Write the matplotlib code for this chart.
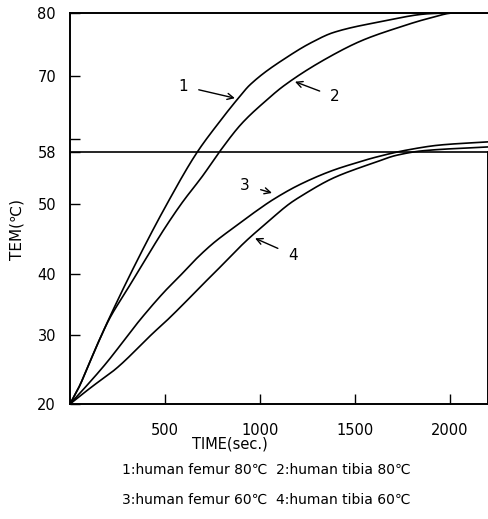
import numpy as np
import matplotlib
matplotlib.use("Agg")
import matplotlib.pyplot as plt

# ---- data ----
t1 = [0, 50, 100, 150, 210, 355, 500, 670, 780, 886, 947, 1158, 1270, 1386, 1632, 1895, 2000, 2200]
T1 = [20, 22.6, 25.8, 29.0, 33.0, 42.0, 49.5, 58.0, 62.5, 66.5, 68.6, 73.3, 75.3, 76.9, 78.6, 79.9, 80.0, 80.0]

t2 = [0, 50, 100, 150, 210, 300, 395, 500, 590, 700, 786, 904, 1035, 1123, 1351, 1542, 1719, 1895, 2020, 2200]
T2 = [20, 22.6, 25.8, 29.0, 32.8, 37.4, 42.0, 46.6, 50.2, 54.4, 58.0, 62.5, 66.2, 68.4, 72.8, 75.7, 77.6, 79.2, 80.0, 80.0]

t3 = [0, 50, 184, 377, 500, 579, 658, 754, 870, 960, 1070, 1210, 1386, 1526, 1596, 1772, 1947, 2200]
T3 = [20, 21.5, 25.7, 32.8, 37.2, 39.7, 42.0, 44.4, 46.8, 48.6, 50.7, 53.0, 55.2, 56.5, 57.1, 58.3, 59.1, 59.6]

t4 = [0, 50, 120, 237, 447, 500, 579, 702, 754, 930, 1035, 1158, 1210, 1386, 1526, 1596, 1719, 1859, 2200]
T4 = [20, 21.1, 22.6, 25.0, 30.6, 32.1, 34.5, 38.4, 40.0, 44.8, 47.3, 50.1, 51.1, 54.0, 55.6, 56.3, 57.5, 58.2, 58.8]

series_labels = ["1", "2", "3", "4"]
label_pos = [(595, 68.4), (1395, 66.7), (921, 52.9), (1174, 42.7)]
arrow_tip = [(868, 66.5), (1184, 69.1), (1063, 51.7), (974, 45.1)]

y_ticks = [20, 30, 40, 50, 58, 70, 80]
y_minor = [60]
x_ticks = [500, 1000, 1500, 2000]
ref_level = 58

caption1 = "1:human femur 80\u2103  2:human tibia 80\u2103"
caption2 = "3:human femur 60\u2103  4:human tibia 60\u2103"

# hand-drawn (non-uniform) temperature axis of the original
tick_heights = [0, 69, 130, 200, 252, 328, 391]

def fwd(v):
    return np.interp(v, y_ticks, tick_heights)

def inv(h):
    return np.interp(h, tick_heights, y_ticks)


def pchip_line(x, y, n=500):
    """Monotone cubic (Fritsch-Carlson) rendering of a line through points."""
    x = np.asarray(x, float)
    y = np.asarray(y, float)
    h = np.diff(x)
    d = np.diff(y) / h
    m = np.zeros_like(y)
    m[0], m[-1] = d[0], d[-1]
    for k in range(1, len(x) - 1):
        if d[k - 1] * d[k] <= 0:
            m[k] = 0.0
        else:
            w1 = 2 * h[k] + h[k - 1]
            w2 = h[k] + 2 * h[k - 1]
            m[k] = (w1 + w2) / (w1 / d[k - 1] + w2 / d[k])
    xs = np.linspace(x[0], x[-1], n)
    idx = np.clip(np.searchsorted(x, xs) - 1, 0, len(x) - 2)
    t = (xs - x[idx]) / h[idx]
    h00 = 2 * t**3 - 3 * t**2 + 1
    h10 = t**3 - 2 * t**2 + t
    h01 = -2 * t**3 + 3 * t**2
    h11 = t**3 - t**2
    ys = (h00 * y[idx] + h10 * h[idx] * m[idx] + h01 * y[idx + 1]
          + h11 * h[idx] * m[idx + 1])
    return xs, ys


plt.rcParams['font.family'] = ['DejaVu Sans']

fig = plt.figure(figsize=(4.89, 5.19), dpi=100)
ax = fig.add_axes([70/489, 1 - 404/519, 418/489, 391/519])
ax.set_yscale('function', functions=(fwd, inv))

lw = 1.2
for t, T in [(t1, T1), (t2, T2), (t3, T3), (t4, T4)]:
    # smooth in the axis' own (drawn) coordinates, then map back
    xs, hs = pchip_line(t, fwd(np.asarray(T, float)))
    ax.plot(xs, inv(hs), color='black', lw=lw)

ax.axhline(ref_level, color='black', lw=1.2)

ax.set_xlim(0, 2200)
ax.set_ylim(20, 80)

ax.set_yticks(y_ticks)
ax.set_yticklabels([str(v) for v in y_ticks])
ax.set_yticks(y_minor, minor=True)
ax.set_xticks(x_ticks)
ax.set_xticklabels([str(v) for v in x_ticks])
ax.tick_params(axis='both', which='both', direction='in', length=7, width=1.0,
               labelsize=10.5)
ax.tick_params(axis='y', pad=10)
ax.tick_params(axis='x', pad=14)

for s in ['left', 'bottom', 'top', 'right']:
    ax.spines[s].set_linewidth(1.4)
ax.spines['right'].set_bounds(20, ref_level)

for lab, (lx, ly), (ax_, ay) in zip(series_labels, label_pos, arrow_tip):
    ax.annotate(lab, xy=(ax_, ay), xytext=(lx, ly), fontsize=11,
                ha='center', va='center',
                arrowprops=dict(arrowstyle='->', color='black', lw=1.0,
                                shrinkA=6, shrinkB=0))

fig.text(230/489, 1 - 444/519, "TIME(sec.)", ha='center', va='center', fontsize=10.5)
fig.text(17/489, 1 - 230/519, "TEM(\u2103)", ha='center', va='center',
         rotation=90, fontsize=11)
fig.text(266/489, 1 - 470/519, caption1, ha='center', va='center', fontsize=10)
fig.text(266/489, 1 - 500/519, caption2, ha='center', va='center', fontsize=10)

fig.savefig("out.png", dpi=100)
